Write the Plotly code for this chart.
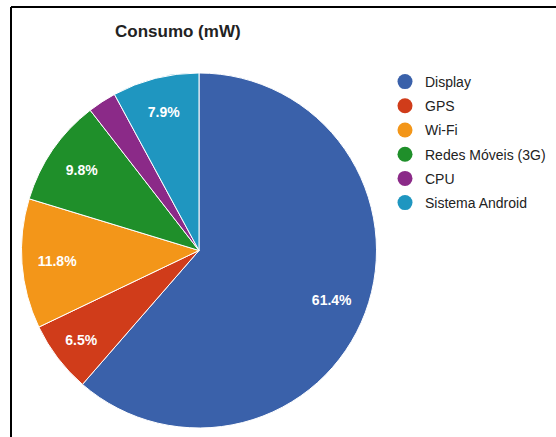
import plotly.graph_objects as go

categories = ["Display", "GPS", "Wi-Fi", "Redes Móveis (3G)", "CPU", "Sistema Android"]
values = [61.4, 6.5, 11.8, 9.8, 2.6, 7.9]
colors = ["#3A61AA", "#D03C1A", "#F39619", "#1F8F2A", "#8B2A88", "#1F96C0"]
title_text = "Consumo (mW)"

total = sum(values)
labels_text = [f"<b>{v / total * 100:.1f}%</b>" if v / total >= 0.05 else "" for v in values]

domain = dict(x=[0.0378, 0.678], y=[0.0206, 0.8330])

fig = go.Figure()
# filled slices
fig.add_trace(go.Pie(
    labels=categories,
    values=values,
    textinfo="none",
    sort=False,
    direction="clockwise",
    rotation=0,
    marker=dict(colors=colors, line=dict(color="white", width=1)),
    domain=domain,
    showlegend=False,
    hoverinfo="label+percent",
))
# transparent ring used only to place the percentage labels at ~0.8 of the radius
fig.add_trace(go.Pie(
    labels=categories,
    values=values,
    text=labels_text,
    textinfo="text",
    textposition="inside",
    insidetextorientation="horizontal",
    hole=0.6,
    sort=False,
    direction="clockwise",
    rotation=0,
    marker=dict(colors=["rgba(0,0,0,0)"] * len(values), line=dict(width=0)),
    textfont=dict(family="Liberation Sans, Arial", size=14, color="white"),
    domain=domain,
    showlegend=False,
    hoverinfo="skip",
))
for name, c in zip(categories, colors):
    fig.add_trace(go.Scatter(
        x=[None], y=[None], mode="markers", name=name, legendgroup=name,
        marker=dict(symbol="circle", size=15, color=c),
    ))

fig.update_layout(
    width=556, height=437,
    margin=dict(l=0, r=0, t=0, b=0),
    paper_bgcolor="white", plot_bgcolor="white",
    xaxis=dict(visible=False), yaxis=dict(visible=False),
    title=dict(text="<b>" + title_text + "</b>", x=115 / 556, xanchor="left",
               y=1 - 31 / 437, yanchor="middle",
               font=dict(family="Liberation Sans, Arial", size=17, color="#222222")),
    legend=dict(x=385 / 556, y=1 - 66 / 437, xanchor="left", yanchor="top",
                font=dict(family="Liberation Sans, Arial", size=14, color="#222222"),
                itemsizing="trace", tracegroupgap=3, bgcolor="rgba(0,0,0,0)"),
    shapes=[
        dict(type="line", xref="paper", yref="paper", x0=11 / 556, x1=1, y0=1 - 7 / 437, y1=1 - 7 / 437,
             line=dict(color="black", width=2)),
        dict(type="line", xref="paper", yref="paper", x0=11 / 556, x1=11 / 556, y0=0, y1=1 - 7 / 437,
             line=dict(color="black", width=2)),
    ],
)
fig.write_html("out.html")
